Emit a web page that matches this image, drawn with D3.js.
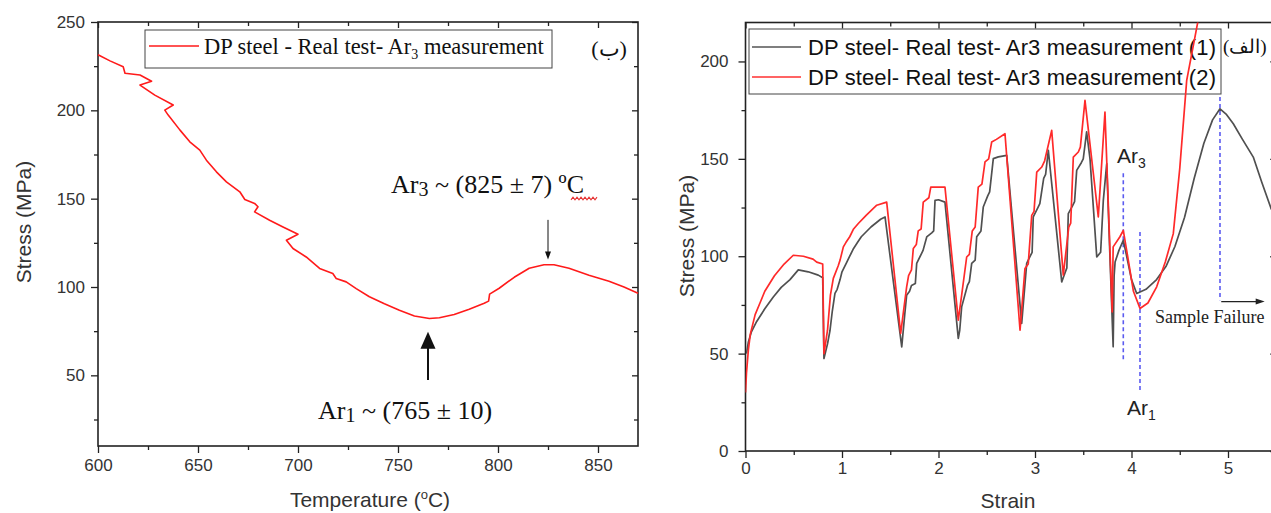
<!DOCTYPE html>
<html>
<head>
<meta charset="utf-8">
<script src="https://cdn.jsdelivr.net/npm/d3@7"></script>
<style>
  body { margin: 0; background: #fff; }
  svg { display: block; }
</style>
</head>
<body>
<svg id="chart" width="1271" height="513"></svg>
<script>
// ---- Panel (ب): stress vs. temperature during cooling ----
const tempC = [600, 606, 612.6, 613.5, 621, 626.8, 621, 628.4, 637.6, 633.4, 635.1, 641, 645.9, 650.9,
  654.2, 659.2, 664.2, 670.9, 673.4, 678.3, 680, 678.3, 685.8, 692.5, 700, 694.2, 697.5, 704.1, 710.8,
  717.4, 719.1, 724.1, 729.1, 735.7, 743.2, 750.7, 758.2, 765.7, 770.7, 778.1, 785.6, 793.1, 795.3,
  795.8, 800.6, 808.1, 815.6, 823, 828, 835.5, 845.5, 855.5, 863, 870];
const tempStress = [231.5, 228, 224.7, 221, 220, 216.5, 214.3, 208.6, 203, 200.1, 197.3, 188.8, 182.2, 177.5,
  171.8, 165.2, 159.5, 153.9, 149.5, 147.3, 145.4, 142.5, 137.8, 134, 129.9, 126.5, 121.8, 117, 110.5,
  107.6, 104.8, 102.9, 99.1, 94.5, 90.5, 86.8, 83.6, 82.2, 82.6, 84.4, 87.4, 90.8, 92,
  96, 99.3, 105.5, 110.6, 112.6, 112.6, 110.6, 106.7, 103.3, 100, 96.5];

// ---- Panel (الف): stress vs. strain, two test runs ----
const strain1 = [0.01, 0.03, 0.06, 0.116, 0.2, 0.288, 0.37, 0.461, 0.547, 0.65, 0.754, 0.8, 0.813,
  0.85, 0.876, 0.9, 0.927, 0.95, 0.98, 1.0, 1.05, 1.08, 1.12, 1.16, 1.2, 1.3, 1.4, 1.446, 1.619,
  1.65, 1.67, 1.70, 1.72, 1.76, 1.774, 1.82, 1.84, 1.878, 1.93, 1.95, 1.964, 2.0, 2.067, 2.205,
  2.22, 2.24, 2.3, 2.32, 2.344, 2.38, 2.396, 2.44, 2.464, 2.51, 2.53, 2.568, 2.62, 2.707, 2.862,
  2.9, 2.914, 2.95, 2.97, 2.982, 3.03, 3.05, 3.09, 3.11, 3.138, 3.277,
  3.3, 3.33, 3.345, 3.39, 3.41, 3.432, 3.48, 3.50, 3.535, 3.57, 3.64, 3.68, 3.708, 3.743, 3.78, 3.81,
  3.82, 3.83, 3.87, 3.915, 3.95, 4.0, 4.054, 4.15, 4.26, 4.36, 4.45, 4.55, 4.65, 4.75, 4.84,
  4.917, 4.98, 5.055, 5.15, 5.262, 5.35, 5.45];
const stress1 = [50, 56, 61, 66.5, 73, 79.1, 84, 88, 93, 92, 90.3, 89, 47.5,
  55, 62, 72, 80.9, 83, 88, 92, 97, 100, 104, 107, 110, 115, 119, 120.2, 53.5,
  70, 80, 82, 85, 86, 96.3, 101, 103, 109.9, 112, 113, 128.7, 129, 127.8, 57.8,
  62, 74, 85, 87, 96.3, 98, 110, 113, 125.3, 131, 133, 150.1, 151, 151.8, 65.5,
  88, 96.3, 100, 102, 120.2, 125, 127, 140, 142, 154.4, 86.8,
  90, 94, 121.9, 126, 128, 144.1, 148, 150, 163.8, 150, 99.6, 102, 128.7, 147.5, 95, 53.5,
  90, 97, 103, 108.2, 100, 88, 80.9, 83, 88, 95, 105, 120, 140, 158, 170,
  175.7, 173, 168, 160, 150.9, 138, 124];

const strain2 = [0, 0.01, 0.03, 0.05, 0.1, 0.15, 0.2, 0.3, 0.4, 0.495, 0.6, 0.7, 0.738, 0.8, 0.813,
  0.85, 0.88, 0.91, 0.96, 0.98, 1.014, 1.04, 1.08, 1.12, 1.169, 1.25, 1.36, 1.463, 1.608,
  1.67, 1.69, 1.72, 1.739, 1.77, 1.79, 1.82, 1.842, 1.9, 1.92, 1.964, 2.067, 2.205,
  2.24, 2.292, 2.32, 2.35, 2.38, 2.412, 2.45, 2.482, 2.52, 2.551, 2.6, 2.689, 2.845,
  2.896, 2.93, 2.966, 2.99, 3.018, 3.07, 3.1, 3.173, 3.293,
  3.35, 3.37, 3.397, 3.449, 3.47, 3.518, 3.656, 3.725, 3.8, 3.81, 3.88, 3.915, 3.96, 4.02, 4.088,
  4.17, 4.261, 4.35, 4.433, 4.5, 4.572, 4.69, 4.72];
const stress2 = [30, 40, 52, 60, 70, 76, 82, 90, 96, 100.5, 100, 98.5, 97, 96, 50,
  62, 80, 88.6, 95, 98, 104.8, 107, 110, 114, 116.8, 121, 126.2, 127.8, 60.4,
  84.3, 90, 93, 104, 106, 113, 114, 127.8, 130, 135.5, 135.5, 135.5, 67.2,
  80, 99.6, 101, 113, 115, 135.5, 137, 148.4, 150, 158.6, 160, 162.9, 62,
  93.7, 96, 121, 123, 143.2, 145.8, 149, 164.6, 90.3,
  115, 117, 150.9, 153.5, 156, 180, 120.2, 174, 71.4, 104.8, 110, 113.3, 100, 82, 73.2,
  76, 84.3, 97, 111.6, 145, 190.3, 221, 228];

// Axis ticks
const leftXTicks = [600, 650, 700, 750, 800, 850];
const leftXMinor = [625, 675, 725, 775, 825];
const leftYTicks = [50, 100, 150, 200, 250];
const leftYMinor = [25, 75, 125, 175, 225];
const rightXTicks = [0, 1, 2, 3, 4, 5];
const rightXMinor = [0.5, 1.5, 2.5, 3.5, 4.5];
const rightYTicks = [0, 50, 100, 150, 200];
const rightYMinor = [25, 75, 125, 175];

const SANS = "'Liberation Sans', Arial, sans-serif";
const SERIF = "'Liberation Serif', 'Times New Roman', serif";
const svg = d3.select("#chart");

// Draws an Origin-style boxed frame: outward ticks with labels on left/bottom,
// inward mirror ticks on top/right.
function drawFrame(x, y, opt) {
  const [x0, x1] = x.range();
  const [yb, yt] = y.range();
  const g = svg.append("g");
  const style = sel => {
    sel.select(".domain").remove();
    sel.selectAll("line").attr("stroke", "#222").attr("stroke-width", 1.3);
    sel.selectAll("text").attr("font-family", SANS).attr("font-size", 17).attr("fill", "#333");
  };
  g.append("g").attr("transform", `translate(0,${yb})`)
    .call(d3.axisBottom(x).tickValues(opt.xMajor).tickSize(7).tickPadding(opt.xPad).tickFormat(d3.format("d"))).call(style);
  g.append("g").attr("transform", `translate(0,${yb})`)
    .call(d3.axisBottom(x).tickValues(opt.xMinor).tickSize(4).tickFormat("")).call(style);
  g.append("g").attr("transform", `translate(${x0},0)`)
    .call(d3.axisLeft(y).tickValues(opt.yMajor).tickSize(7).tickPadding(opt.yPad).tickFormat(d3.format("d"))).call(style);
  g.append("g").attr("transform", `translate(${x0},0)`)
    .call(d3.axisLeft(y).tickValues(opt.yMinor).tickSize(4).tickFormat("")).call(style);
  g.append("g").attr("transform", `translate(0,${yt})`)
    .call(d3.axisTop(x).tickValues(opt.xMajor).tickSize(-6).tickFormat("")).call(style);
  g.append("g").attr("transform", `translate(0,${yt})`)
    .call(d3.axisTop(x).tickValues(opt.xMinor).tickSize(-4).tickFormat("")).call(style);
  g.append("g").attr("transform", `translate(${x1},0)`)
    .call(d3.axisRight(y).tickValues(opt.yMajor).tickSize(-6).tickFormat("")).call(style);
  g.append("g").attr("transform", `translate(${x1},0)`)
    .call(d3.axisRight(y).tickValues(opt.yMinor).tickSize(-4).tickFormat("")).call(style);
  g.append("rect").attr("x", x0).attr("y", yt).attr("width", x1 - x0).attr("height", yb - yt)
    .attr("fill", "none").attr("stroke", "#222").attr("stroke-width", 1.6);
  return g;
}

// ================= Panel (ب) =================
const xL = d3.scaleLinear().domain([600, 870]).range([98, 638]);
const yL = d3.scaleLinear().domain([10, 250]).range([446, 22]);

drawFrame(xL, yL, { xMajor: leftXTicks, xMinor: leftXMinor, yMajor: leftYTicks, yMinor: leftYMinor, xPad: 6, yPad: 6 });

svg.append("path")
  .datum(d3.zip(tempC, tempStress))
  .attr("fill", "none").attr("stroke", "#ff1a1a").attr("stroke-width", 1.6)
  .attr("stroke-linejoin", "round")
  .attr("d", d3.line().x(d => xL(d[0])).y(d => yL(d[1])));

// axis titles
svg.append("text").attr("transform", "translate(31,222) rotate(-90)")
  .attr("text-anchor", "middle").attr("font-family", SANS).attr("font-size", 21).attr("fill", "#333")
  .text("Stress (MPa)");
const tt = svg.append("text").attr("x", 370).attr("y", 507)
  .attr("text-anchor", "middle").attr("font-family", SANS).attr("font-size", 21).attr("fill", "#333");
tt.append("tspan").text("Temperature (");
tt.append("tspan").attr("font-size", 13).attr("dy", -8).text("o");
tt.append("tspan").attr("dy", 8).text("C)");

// legend
svg.append("rect").attr("x", 145).attr("y", 30).attr("width", 407).attr("height", 38)
  .attr("fill", "#fff").attr("stroke", "#444").attr("stroke-width", 1);
svg.append("line").attr("x1", 149).attr("x2", 199).attr("y1", 46).attr("y2", 46)
  .attr("stroke", "#ff1a1a").attr("stroke-width", 1.6);
const lgL = svg.append("text").attr("x", 204).attr("y", 54)
  .attr("font-family", SERIF).attr("font-size", 22.5).attr("fill", "#111");
lgL.append("tspan").text("DP steel - Real test- Ar");
lgL.append("tspan").attr("font-size", 14).attr("dy", 5).text("3");
lgL.append("tspan").attr("dy", -5).text(" measurement");

svg.append("text").attr("x", 609).attr("y", 56).attr("text-anchor", "middle")
  .attr("font-family", SERIF).attr("font-size", 22).attr("fill", "#111").text("(ب)");

// Ar3 annotation
const a3 = svg.append("text").attr("x", xL(746.5)).attr("y", yL(153))
  .attr("font-family", SERIF).attr("font-size", 26).attr("fill", "#111");
a3.append("tspan").text("Ar");
a3.append("tspan").attr("font-size", 20).attr("dy", 3).text("3");
a3.append("tspan").attr("dy", -3).text(" ~ (825 ± 7) ºC");
// spell-check style wavy underline under the unit
(function () {
  const xs = d3.range(571, 598, 2);
  svg.append("path").attr("fill", "none").attr("stroke", "#e53030").attr("stroke-width", 1.1)
    .attr("d", d3.line()(xs.map((v, i) => [v, 198.5 + (i % 2 ? -1.3 : 1.3)])));
})();
// thin arrow down to the Ar3 peak
{
  const ax = xL(825), ay0 = yL(138), ay1 = yL(115.5);
  svg.append("line").attr("x1", ax).attr("x2", ax).attr("y1", ay0).attr("y2", ay1 - 6)
    .attr("stroke", "#111").attr("stroke-width", 1);
  svg.append("path").attr("fill", "#111")
    .attr("d", `M${ax - 3},${ay1 - 8} L${ax + 3},${ay1 - 8} L${ax},${ay1} Z`);
}

// Ar1 annotation
const a1 = svg.append("text").attr("x", xL(710)).attr("y", yL(25.3))
  .attr("font-family", SERIF).attr("font-size", 26).attr("fill", "#111");
a1.append("tspan").text("Ar");
a1.append("tspan").attr("font-size", 20).attr("dy", 3).text("1");
a1.append("tspan").attr("dy", -3).text(" ~ (765 ± 10)");
{
  const ax = xL(765), tip = yL(74.6), base = yL(47.4);
  svg.append("line").attr("x1", ax).attr("x2", ax).attr("y1", base).attr("y2", tip + 14)
    .attr("stroke", "#111").attr("stroke-width", 2);
  svg.append("path").attr("fill", "#111")
    .attr("d", `M${ax - 7.5},${tip + 17} L${ax + 7.5},${tip + 17} L${ax},${tip} Z`);
}

// ================= Panel (الف) =================
const xR = d3.scaleLinear().domain([0, 5.5]).range([745.5, 1276.25]);
const yR = d3.scaleLinear().domain([0, 220]).range([451, 22.5]);

drawFrame(xR, yR, { xMajor: rightXTicks, xMinor: rightXMinor, yMajor: rightYTicks, yMinor: rightYMinor, xPad: 4, yPad: 10 });

svg.append("defs").append("clipPath").attr("id", "plotR")
  .append("rect").attr("x", 745.5).attr("y", 22.5).attr("width", 530.75).attr("height", 428.5);

// legend box sits under the curves
svg.append("rect").attr("x", 749).attr("y", 29).attr("width", 472).attr("height", 65)
  .attr("fill", "#fff").attr("stroke", "#444").attr("stroke-width", 1);
svg.append("line").attr("x1", 752).attr("x2", 801).attr("y1", 47).attr("y2", 47)
  .attr("stroke", "#555").attr("stroke-width", 1.6);
svg.append("line").attr("x1", 752).attr("x2", 801).attr("y1", 77).attr("y2", 77)
  .attr("stroke", "#ff3030").attr("stroke-width", 1.6);
svg.append("text").attr("x", 808).attr("y", 55).attr("font-family", SANS).attr("font-size", 22).attr("fill", "#111")
  .attr("textLength", 408).attr("lengthAdjust", "spacing")
  .text("DP steel- Real test- Ar3 measurement (1)");
svg.append("text").attr("x", 808).attr("y", 85).attr("font-family", SANS).attr("font-size", 22).attr("fill", "#111")
  .attr("textLength", 408).attr("lengthAdjust", "spacing")
  .text("DP steel- Real test- Ar3 measurement (2)");

svg.append("text").attr("x", 1223).attr("y", 53)
  .attr("font-family", SERIF).attr("font-size", 19).attr("fill", "#111").text("(الف)");

// guide lines for the transformation points and failure
const guide = (s, lo, hi) => svg.append("line")
  .attr("x1", xR(s)).attr("x2", xR(s)).attr("y1", yR(hi)).attr("y2", yR(lo))
  .attr("stroke", "#5b5bf0").attr("stroke-width", 1.6).attr("stroke-dasharray", "4,3");
guide(3.915, 46.7, 142.6);
guide(4.088, 31.3, 112.5);
guide(4.917, 77.4, 181.7);

const lineR = d3.line().x(d => xR(d[0])).y(d => yR(d[1]));
const curves = svg.append("g").attr("clip-path", "url(#plotR)");
curves.append("path").datum(d3.zip(strain1, stress1))
  .attr("fill", "none").attr("stroke", "#505050").attr("stroke-width", 1.7)
  .attr("stroke-linejoin", "round").attr("d", lineR);
curves.append("path").datum(d3.zip(strain2, stress2))
  .attr("fill", "none").attr("stroke", "#ff2a2a").attr("stroke-width", 1.7)
  .attr("stroke-linejoin", "round").attr("d", lineR);

// Ar labels
const r3 = svg.append("text").attr("x", 1117).attr("y", 163)
  .attr("font-family", SANS).attr("font-size", 21).attr("fill", "#222");
r3.append("tspan").text("Ar");
r3.append("tspan").attr("font-size", 14).attr("dy", 5).text("3");
const r1 = svg.append("text").attr("x", 1127).attr("y", 415)
  .attr("font-family", SANS).attr("font-size", 21).attr("fill", "#222");
r1.append("tspan").text("Ar");
r1.append("tspan").attr("font-size", 14).attr("dy", 5).text("1");

// sample failure arrow
{
  const yA = yR(76.7), xa = xR(4.93), xb = xR(5.38);
  svg.append("line").attr("x1", xa).attr("x2", xb - 7).attr("y1", yA).attr("y2", yA)
    .attr("stroke", "#222").attr("stroke-width", 1.3);
  svg.append("path").attr("fill", "#222")
    .attr("d", `M${xb - 9},${yA - 3} L${xb},${yA} L${xb - 9},${yA + 3} Z`);
  svg.append("text").attr("x", 1155).attr("y", 323)
    .attr("font-family", SERIF).attr("font-size", 18).attr("fill", "#222").text("Sample Failure");
}

// axis titles
svg.append("text").attr("transform", "translate(694,236) rotate(-90)")
  .attr("text-anchor", "middle").attr("font-family", SANS).attr("font-size", 21).attr("fill", "#333")
  .text("Stress (MPa)");
svg.append("text").attr("x", 1008).attr("y", 508).attr("text-anchor", "middle")
  .attr("font-family", SANS).attr("font-size", 21).attr("fill", "#333").text("Strain");
</script>
</body>
</html>
